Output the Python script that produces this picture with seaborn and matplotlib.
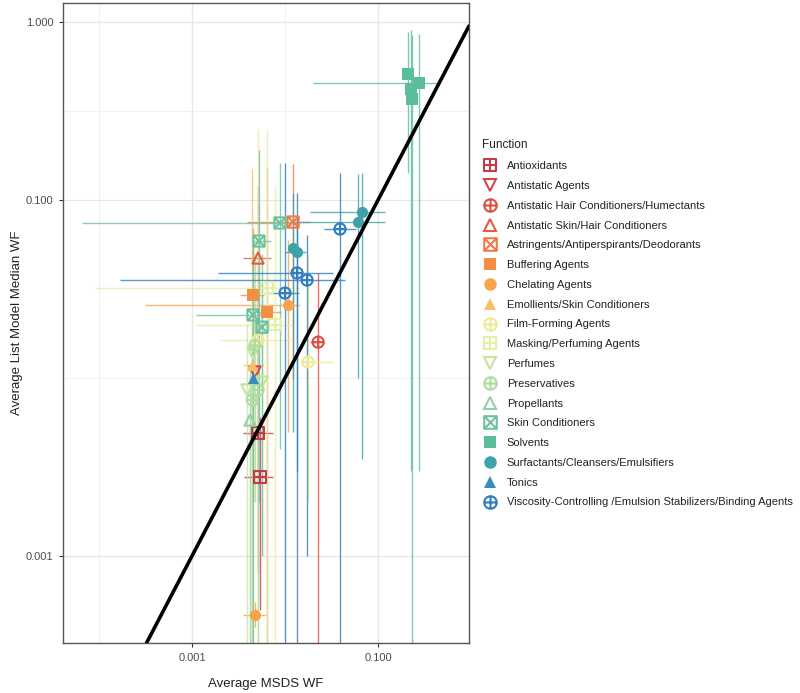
import numpy as np
import pandas as pd
import matplotlib
matplotlib.use("Agg")
import matplotlib.pyplot as plt
from matplotlib.path import Path
from matplotlib.lines import Line2D
from matplotlib.ticker import FixedLocator, NullFormatter
import seaborn as sns

# ---------------- data ----------------
functions = [
    "Antioxidants", "Antistatic Agents", "Antistatic Hair Conditioners/Humectants",
    "Antistatic Skin/Hair Conditioners", "Astringents/Antiperspirants/Deodorants",
    "Buffering Agents", "Chelating Agents", "Emollients/Skin Conditioners",
    "Film-Forming Agents", "Masking/Perfuming Agents", "Perfumes", "Preservatives",
    "Propellants", "Skin Conditioners", "Solvents", "Surfactants/Cleansers/Emulsifiers",
    "Tonics", "Viscosity-Controlling /Emulsion Stabilizers/Binding Agents",
]

point_function = [
    "Antioxidants", "Antioxidants",
    "Antistatic Agents",
    "Antistatic Hair Conditioners/Humectants",
    "Antistatic Skin/Hair Conditioners",
    "Astringents/Antiperspirants/Deodorants",
    "Buffering Agents", "Buffering Agents",
    "Chelating Agents", "Chelating Agents",
    "Emollients/Skin Conditioners",
    "Film-Forming Agents", "Film-Forming Agents",
    "Masking/Perfuming Agents", "Masking/Perfuming Agents",
    "Perfumes", "Perfumes", "Perfumes",
    "Preservatives", "Preservatives", "Preservatives",
    "Propellants",
    "Skin Conditioners", "Skin Conditioners", "Skin Conditioners", "Skin Conditioners",
    "Solvents", "Solvents", "Solvents", "Solvents",
    "Surfactants/Cleansers/Emulsifiers", "Surfactants/Cleansers/Emulsifiers",
    "Surfactants/Cleansers/Emulsifiers", "Surfactants/Cleansers/Emulsifiers",
    "Tonics",
    "Viscosity-Controlling /Emulsion Stabilizers/Binding Agents",
    "Viscosity-Controlling /Emulsion Stabilizers/Binding Agents",
    "Viscosity-Controlling /Emulsion Stabilizers/Binding Agents",
    "Viscosity-Controlling /Emulsion Stabilizers/Binding Agents",
]
msds_wf = [
    0.00513, 0.00538,
    0.00475,
    0.0227,
    0.00513,
    0.0122,
    0.00453, 0.0064,
    0.00475, 0.0108,
    0.00442,
    0.0177, 0.00513,
    0.0078, 0.0064,
    0.0039, 0.00453, 0.00566,
    0.00513, 0.00445, 0.00475,
    0.00421,
    0.00883, 0.00525, 0.00453, 0.00566,
    0.210, 0.276, 0.226, 0.232,
    0.0673, 0.0610, 0.0122, 0.0135,
    0.00453,
    0.0390, 0.01346, 0.01726, 0.0100,
]
model_wf = [
    0.00491, 0.00278,
    0.0108,
    0.0159,
    0.0472,
    0.0752,
    0.0293, 0.0235,
    0.000466, 0.0257,
    0.0118,
    0.0123, 0.0163,
    0.0199, 0.032,
    0.00857, 0.0138, 0.0095,
    0.00857, 0.00752, 0.0152,
    0.0058,
    0.0743, 0.0588, 0.0226, 0.0193,
    0.510, 0.454, 0.420, 0.369,
    0.0857, 0.0752, 0.0537, 0.0510,
    0.0100,
    0.0687, 0.0389, 0.0355, 0.0300,
]
msds_lo = [
    0.0035, 0.0036,
    np.nan,
    0.0186,
    0.0035,
    0.0039,
    0.0033, 0.0045,
    0.0035, 0.000313,
    0.0035,
    0.0145, 0.0020,
    0.0011, 0.0000906,
    np.nan, np.nan, np.nan,
    np.nan, np.nan, np.nan,
    np.nan,
    0.0000656, 0.0045, 0.0011, np.nan,
    np.nan, 0.020, np.nan, np.nan,
    0.0186, 0.0145, np.nan, 0.010,
    np.nan,
    0.026, 0.00191, 0.000168, 0.006,
]
msds_hi = [
    0.0075, 0.0075,
    np.nan,
    0.0265,
    0.0070,
    0.0186,
    0.0060, 0.0090,
    0.0062, 0.0145,
    0.0060,
    0.0328, 0.0120,
    0.0120, 0.0145,
    np.nan, np.nan, np.nan,
    np.nan, np.nan, np.nan,
    np.nan,
    0.0145, 0.0070, 0.0060, np.nan,
    np.nan, 0.430, np.nan, np.nan,
    0.120, 0.120, np.nan, 0.017,
    np.nan,
    0.058, 0.0328, 0.0441, 0.014,
]
model_lo = [
    0.0008, 0.0005,
    np.nan,
    0.0001,
    0.003,
    0.010,
    0.002, 0.0001,
    0.0004, 0.005,
    0.0001,
    0.002, 0.0001,
    0.0001, 0.0001,
    0.0001, 0.003, 0.001,
    0.0001, 0.0001, 0.002,
    0.0001,
    0.004, 0.002, 0.0001, 0.001,
    0.142, 0.003, 0.003, 0.0001,
    0.0035, 0.010, 0.005, 0.003,
    np.nan,
    0.0001, 0.0001, 0.001, 0.0001,
]
model_hi = [
    0.030, 0.006,
    np.nan,
    0.0389,
    0.120,
    0.160,
    0.070, 0.153,
    0.00055, 0.060,
    0.150,
    0.050, 0.250,
    0.120, 0.250,
    0.020, 0.040, 0.030,
    0.030, 0.020, 0.050,
    0.012,
    0.161, 0.190, 0.060, 0.050,
    0.880, 0.860, 0.900, 0.850,
    0.142, 0.140, 0.110, 0.080,
    np.nan,
    0.142, 0.109, 0.0636, 0.161,
]

# ---------------- styles ----------------
colors = [
    "#C9374B", "#D8434A", "#E04F44", "#E65A40", "#F07A48", "#F58E45",
    "#F9A34C", "#FBBE62", "#EEEA95", "#E2EFA6", "#C5E59B", "#ADDDA0",
    "#8FD2A3", "#6DC3A0", "#5CBD9E", "#3FA2A6", "#3A8CBC", "#2F7EBF",
]
square = Path([(-1, -1), (1, -1), (1, 1), (-1, 1), (-1, -1)],
              [Path.MOVETO, Path.LINETO, Path.LINETO, Path.LINETO, Path.CLOSEPOLY])
plus = Path([(-1, 0), (1, 0), (0, -1), (0, 1)],
            [Path.MOVETO, Path.LINETO, Path.MOVETO, Path.LINETO])
cross = Path([(-1, -1), (1, 1), (-1, 1), (1, -1)],
             [Path.MOVETO, Path.LINETO, Path.MOVETO, Path.LINETO])
circle = Path.unit_circle()
sq_plus = Path.make_compound_path(square, plus)
sq_cross = Path.make_compound_path(square, cross)
circ_plus = Path.make_compound_path(circle, plus)

# (marker, filled)
shapes = [
    (sq_plus, False), ("v", False), (circ_plus, False), ("^", False), (sq_cross, False),
    ("s", True), ("o", True), ("^", True), (circ_plus, False), (sq_plus, False),
    ("v", False), (circ_plus, False), ("^", False), (sq_cross, False), ("s", True),
    ("o", True), ("^", True), (circ_plus, False),
]

df = pd.DataFrame({
    "Function": point_function, "msds": msds_wf, "model": model_wf,
    "xlo": msds_lo, "xhi": msds_hi, "ylo": model_lo, "yhi": model_hi,
})

sns.set_theme(style="white")
plt.rcParams["font.family"] = ["Liberation Sans", "DejaVu Sans"]

fig = plt.figure(figsize=(8, 6.93), dpi=100)
ax = fig.add_axes([63 / 800, 1 - 643 / 693, (469 - 63) / 800, (643 - 3) / 693])
ax.set_xscale("log")
ax.set_yscale("log")

# error bars
for i, f in enumerate(functions):
    sub = df[df["Function"] == f]
    c = colors[i]
    h = sub.dropna(subset=["xlo"])
    if len(h):
        ax.hlines(h["model"], h["xlo"], h["xhi"], color=c, lw=1.0, alpha=0.8, zorder=2)
    v = sub.dropna(subset=["ylo"])
    if len(v):
        ax.vlines(v["msds"], v["ylo"], v["yhi"], color=c, lw=1.0, alpha=0.8, zorder=2)

# points
for i, f in enumerate(functions):
    sub = df[df["Function"] == f]
    c = colors[i]
    m, filled = shapes[i]
    if filled:
        size = 75 if m == "s" else 65
        sns.scatterplot(data=sub, x="msds", y="model", marker=m, color=c,
                        edgecolor=c, linewidth=0, s=size, ax=ax, zorder=3, legend=False)
    else:
        sns.scatterplot(data=sub, x="msds", y="model", marker=m, facecolor="none",
                        edgecolor=c, linewidth=1.5, s=65, ax=ax, zorder=3, legend=False)

# identity line
ax.axline((1e-3, 1e-3), (1e-1, 1e-1), color="black", lw=2.6, zorder=5)

ax.set_xlim(10 ** -4.387, 10 ** -0.022)
ax.set_ylim(10 ** -3.489, 10 ** 0.107)

ax.xaxis.set_major_locator(FixedLocator([0.001, 0.1]))
ax.set_xticklabels(["0.001", "0.100"])
ax.yaxis.set_major_locator(FixedLocator([0.001, 0.1, 1.0]))
ax.set_yticklabels(["0.001", "0.100", "1.000"])
ax.xaxis.set_minor_locator(FixedLocator([1e-4, 1e-2, 1.0]))
ax.yaxis.set_minor_locator(FixedLocator([1e-4, 1e-2, 10 ** -0.5]))
ax.xaxis.set_minor_formatter(NullFormatter())
ax.yaxis.set_minor_formatter(NullFormatter())
ax.grid(True, which="major", color="#E6E6E6", lw=0.9, zorder=0)
ax.grid(True, which="minor", color="#EFEFEF", lw=0.6, zorder=0)
ax.set_axisbelow(True)
ax.tick_params(which="major", length=3, width=0.8, color="#333333",
               labelsize=8, labelcolor="#4D4D4D", direction="out", bottom=True, left=True,
               pad=4)
ax.tick_params(which="minor", length=0)
for s in ax.spines.values():
    s.set_color("#555555")
    s.set_linewidth(1.0)

ax.set_xlabel("Average MSDS WF", fontsize=9.5, color="#222222", labelpad=11)
ax.set_ylabel("Average List Model Median WF", fontsize=9.5, color="#222222", labelpad=2)

# legend
handles = []
for i, f in enumerate(functions):
    m, filled = shapes[i]
    if filled:
        handles.append(Line2D([], [], marker=m, linestyle="none", markersize=9,
                              markerfacecolor=colors[i], markeredgecolor=colors[i],
                              markeredgewidth=0))
    else:
        handles.append(Line2D([], [], marker=m, linestyle="none", markersize=9,
                              markerfacecolor="none", markeredgecolor=colors[i],
                              markeredgewidth=1.5))
leg = fig.legend(handles, functions, loc="upper left",
                 bbox_to_anchor=(478 / 800, 1 - 135 / 693), frameon=False,
                 title="Function", fontsize=8, title_fontsize=8.5,
                 alignment="left", handlelength=1.3, handletextpad=0.9,
                 labelspacing=0.88, borderaxespad=0)
for t in leg.get_texts():
    t.set_color("#222222")
leg.get_title().set_color("#222222")

fig.savefig("out.png", dpi=100)
